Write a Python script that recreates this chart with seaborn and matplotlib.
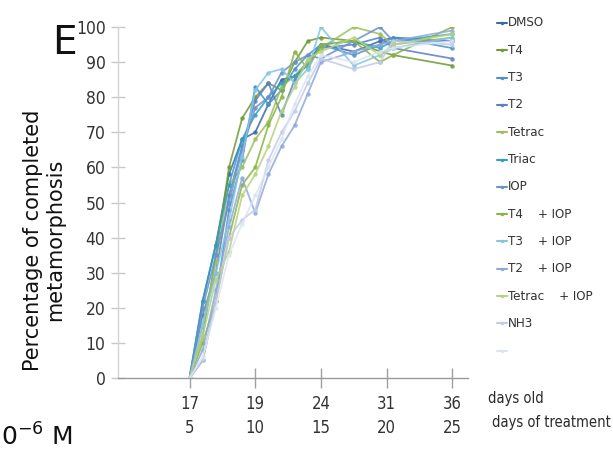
import numpy as np
import pandas as pd
import matplotlib
matplotlib.use("Agg")
import matplotlib.pyplot as plt
from matplotlib.lines import Line2D
import seaborn as sns

# ---------------- data ----------------
days = [5, 6, 7, 8, 9, 10, 11, 12, 13, 14, 15, 17.5, 19.5, 20.5, 25]
tick_days = [5, 10, 15, 20, 25]
tick_days_old = ["17", "19", "24", "31", "36"]
y_ticks = [0, 10, 20, 30, 40, 50, 60, 70, 80, 90, 100]

series_names = ["DMSO", "T4", "T3", "T2", "Tetrac", "Triac", "IOP",
                "T4    + IOP", "T3    + IOP", "T2    + IOP",
                "Tetrac    + IOP", "NH3", " "]

dmso       = [0, 22, 38, 58, 68, 70, 78, 85, 86, 90, 95, 93, 96, 97, 96]
t4         = [0, 12, 35, 60, 74, 80, 84, 82, 90, 96, 97, 96, 93, 92, 89]
t3         = [0, 5, 22, 48, 62, 83, 78, 82, 88, 92, 95, 92, 95, 97, 94]
t2         = [0, 18, 30, 52, 66, 79, 84, 75, 85, 90, 94, 95, 97, 94, 91]
tetrac     = [0, 15, 33, 55, 60, 68, 73, 83, 86, 90, 94, 100, 98, 95, 97]
triac      = [0, 22, 38, 55, 68, 75, 80, 84, 86, 89, 95, 96, 94, 96, 98]
iop        = [0, 20, 35, 50, 65, 77, 80, 87, 90, 92, 91, 96, 100, 96, 96]
t4_iop     = [0, 10, 22, 40, 55, 60, 72, 80, 93, 88, 95, 96, 90, 92, 100]
t3_iop     = [0, 15, 30, 45, 63, 82, 87, 88, 84, 88, 100, 89, 92, 94, 97]
t2_iop     = [0, 8, 25, 43, 57, 47, 58, 66, 72, 81, 90, 93, 95, 96, 99]
tetrac_iop = [0, 12, 28, 36, 52, 58, 66, 76, 83, 91, 93, 97, 92, 95, 98]
nh3        = [0, 5, 22, 40, 45, 48, 62, 70, 76, 84, 91, 88, 90, 96, 95]
extra      = [0, 6, 20, 35, 44, 52, 60, 68, 78, 86, 92, 90, 93, 94, 96]

all_vals = [dmso, t4, t3, t2, tetrac, triac, iop, t4_iop, t3_iop, t2_iop,
            tetrac_iop, nh3, extra]

colors = ["#3b6aa6", "#6f9a34", "#4a93c4", "#5b80c4", "#9cc05a", "#2fa0c2",
          "#6c90d0", "#8ab446", "#84c6e2", "#8fa8dc", "#b7d27c", "#c3cbe8",
          "#dbe5f2"]

rows = []
for name, vals in zip(series_names, all_vals):
    for d, v in zip(days, vals):
        rows.append({"day": d, "pct": v, "series": name})
df = pd.DataFrame(rows)
palette = dict(zip(series_names, colors))

# ---------------- figure ----------------
sns.set_style("white")
plt.rcParams["font.family"] = ["DejaVu Sans"]
cond = dict(fontfamily="DejaVu Sans", fontstretch="condensed")

W, H = 613, 450
fig = plt.figure(figsize=(W / 100, H / 100), dpi=100)
ax = fig.add_axes([118 / W, 1 - 378 / H, (468 - 118) / W, (378 - 27) / H])

sns.lineplot(data=df, x="day", y="pct", hue="series", palette=palette,
             hue_order=series_names, marker="o", markersize=3.2,
             markeredgewidth=0, linewidth=1.3, alpha=0.85, sort=False,
             legend=False, ax=ax)

ax.set_xlim(-0.45, 26.2)
ax.set_ylim(0, 100)
ax.set_xlabel("")
ax.set_ylabel("")

for s in ["top", "right"]:
    ax.spines[s].set_visible(False)
ax.spines["left"].set_color("#d4d4d4")
ax.spines["left"].set_linewidth(1.0)
ax.spines["bottom"].set_color("#9a9a9a")
ax.spines["bottom"].set_linewidth(1.0)

ax.set_yticks(y_ticks)
ax.set_yticklabels([str(v) for v in y_ticks], fontsize=12.5,
                   color="#333333", **cond)
ax.tick_params(axis="y", direction="inout", length=10, width=1,
               color="#c8c8c8", pad=4, left=True)

ax.set_xticks(tick_days)
ax.set_xticklabels([f"{a}\n{b}" for a, b in zip(tick_days_old, tick_days)],
                   fontsize=12, color="#333333", linespacing=1.45, **cond)
ax.tick_params(axis="x", direction="inout", length=14, width=1,
               color="#a0a0a0", pad=5, bottom=True)

# ---------------- legend (manual) ----------------
for i, (name, c) in enumerate(zip(series_names, colors)):
    ypx = 23 + i * 27.3
    yf = 1 - ypx / H
    fig.add_artist(Line2D([497 / W, 507 / W], [yf, yf], color=c, lw=1.5,
                          transform=fig.transFigure))
    fig.add_artist(Line2D([502 / W], [yf], color=c, marker="o", ms=2.5,
                          markeredgewidth=0, transform=fig.transFigure))
    fig.text(508 / W, yf, name, fontsize=9.5, color="#333333",
             va="center", ha="left", **cond)

# ---------------- other text ----------------
fig.text(488 / W, 1 - 398 / H, "days old", fontsize=10.5,
         color="#2a2a2a", va="center", ha="left", **cond)
fig.text(492 / W, 1 - 423 / H, "days of treatment", fontsize=10.5,
         color="#2a2a2a", va="center", ha="left", **cond)

fig.text(44 / W, 1 - 240 / H, "Percentage of completed\nmetamorphosis",
         rotation=90, fontsize=15, ha="center", va="center",
         multialignment="center", color="#111111", linespacing=1.1)

fig.text(52 / W, 1 - 43 / H, "E", fontsize=28, ha="left", va="center",
         color="#111111")

fig.text(1 / W, 1 - 437 / H, "0$^{-6}$ M", fontsize=18, ha="left",
         va="center", color="#111111")

fig.savefig("out.png", dpi=100)
